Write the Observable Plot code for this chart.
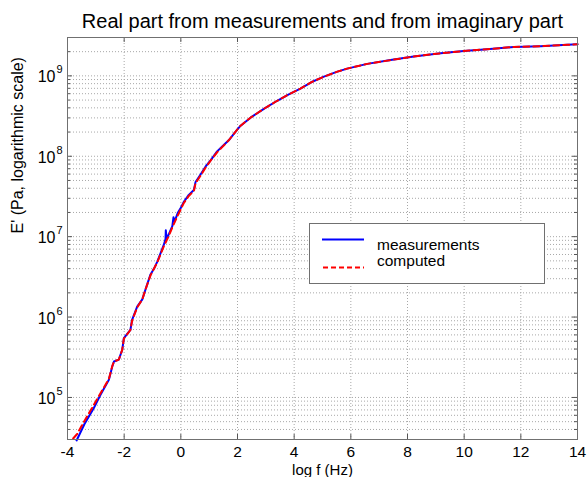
<!DOCTYPE html>
<html><head><meta charset="utf-8">
<script src="https://cdn.jsdelivr.net/npm/d3@7"></script>
<script src="https://cdn.jsdelivr.net/npm/@observablehq/plot@0.6"></script>
<style>
body{margin:0;background:#fff;font-family:Arial,"Liberation Sans",sans-serif;}
#wrap{position:relative;width:588px;height:477px;}
#legend{position:absolute;left:309px;top:223px;}
</style></head><body>
<div id="wrap"></div>
<script>
// measured log f (Hz) and E' (Pa)
const measX = [-3.68,-3.40,-3.07,-2.84,-2.54,-2.42,-2.36,-2.19,-2.07,-2.01,-1.78,-1.72,-1.54,-1.36,-1.25,-1.07,-0.95,-0.83,-0.72,-0.60,-0.54,-0.53,-0.50,-0.40,-0.30,-0.26,-0.22,-0.10,0.00,0.10,0.28,0.46,0.52,0.69,0.87,1.05,1.28,1.46,1.69,1.85,1.99,2.11,2.46,2.93,3.40,3.81,4.22,4.60,5.05,5.50,5.87,6.58,7.40,8.22,9.17,9.99,10.81,11.75,12.70,13.64,14.00];
const measE = [2.92e4,4.68e4,7.41e4,1.07e5,1.66e5,2.43e5,2.80e5,2.95e5,3.89e5,5.46e5,6.92e5,9.23e5,1.35e6,1.66e6,2.19e6,3.39e6,3.98e6,4.90e6,6.17e6,7.94e6,9.33e6,1.20e7,9.33e6,1.12e7,1.35e7,1.74e7,1.55e7,2.00e7,2.29e7,2.69e7,3.31e7,3.80e7,4.79e7,5.89e7,7.41e7,8.91e7,1.15e8,1.32e8,1.58e8,1.86e8,2.14e8,2.40e8,3.02e8,3.89e8,4.90e8,5.89e8,6.92e8,8.32e8,9.77e8,1.12e9,1.23e9,1.41e9,1.57e9,1.74e9,1.91e9,2.04e9,2.14e9,2.29e9,2.34e9,2.43e9,2.48e9];
// computed from imaginary part
const compX = [-3.80,-3.66,-3.48,-3.07,-2.84,-2.54,-2.42,-2.36,-2.19,-2.07,-2.01,-1.78,-1.72,-1.54,-1.36,-1.25,-1.07,-0.83,-0.60,-0.45,-0.30,-0.18,0.00,0.10,0.28,0.46,0.52,0.69,0.87,1.05,1.28,1.46,1.69,1.85,1.99,2.11,2.46,2.93,3.40,3.81,4.22,4.60,5.05,5.50,5.87,6.58,7.40,8.22,9.17,9.99,10.81,11.75,12.70,13.64,14.00];
const compE = [3.09e4,3.51e4,4.57e4,8.10e4,1.12e5,1.70e5,2.45e5,2.80e5,2.95e5,3.89e5,5.40e5,6.90e5,9.00e5,1.32e6,1.66e6,2.19e6,3.30e6,4.80e6,7.60e6,9.80e6,1.30e7,1.62e7,2.20e7,2.60e7,3.20e7,3.70e7,4.60e7,5.70e7,7.20e7,8.80e7,1.12e8,1.30e8,1.58e8,1.86e8,2.14e8,2.40e8,3.02e8,3.89e8,4.90e8,5.89e8,6.92e8,8.32e8,9.77e8,1.12e9,1.23e9,1.41e9,1.57e9,1.74e9,1.91e9,2.04e9,2.14e9,2.29e9,2.34e9,2.43e9,2.48e9];

const xTicks = [-4,-2,0,2,4,6,8,10,12,14];
const yDecades = [1e5,1e6,1e7,1e8,1e9];
const yExponents = ["5","6","7","8","9"];
const yMinor = [3e4,4e4,5e4,6e4,7e4,8e4,9e4,
  2e5,3e5,4e5,5e5,6e5,7e5,8e5,9e5,
  2e6,3e6,4e6,5e6,6e6,7e6,8e6,9e6,
  2e7,3e7,4e7,5e7,6e7,7e7,8e7,9e7,
  2e8,3e8,4e8,5e8,6e8,7e8,8e8,9e8,
  2e9,3e9];
const title = "Real part from measurements and from imaginary part";
const xLabel = "log f (Hz)";
const yLabel = "E' (Pa, logarithmic scale)";
const seriesNames = ["measurements", "computed"];

const meas = measX.map((x, i) => ({x, e: measE[i]}));
const comp = compX.map((x, i) => ({x, e: compE[i]}));

const W = 588, H = 477, ML = 67, MR = 11, MT = 37, MB = 38;
const FW = W - ML - MR, FH = H - MT - MB;
const gridStyle = {stroke: "#a8a8a8", strokeWidth: 1, strokeDasharray: "1,2"};
const tickStroke = "#555";
const font = "Arial, 'Liberation Sans', sans-serif";

const chart = Plot.plot({
  width: W, height: H,
  marginLeft: ML, marginRight: MR, marginTop: MT, marginBottom: MB,
  style: {fontFamily: font, fontSize: "16px", color: "#000", background: "#fff", overflow: "visible"},
  x: {domain: [-4, 14], axis: null},
  y: {type: "log", domain: [3e4, 3e9], axis: null},
  marks: [
    Plot.ruleY(yMinor, {y: d => d, ...gridStyle}),
    Plot.ruleY(yDecades, {y: d => d, ...gridStyle}),
    Plot.ruleX(xTicks, {x: d => d, ...gridStyle}),
    Plot.tickX(xTicks, {x: d => d, insetTop: FH - 5, stroke: tickStroke}),
    Plot.tickX(xTicks, {x: d => d, insetBottom: FH - 5, stroke: tickStroke}),
    Plot.tickY(yDecades, {y: d => d, insetRight: FW - 5, stroke: tickStroke}),
    Plot.tickY(yDecades, {y: d => d, insetLeft: FW - 5, stroke: tickStroke}),
    Plot.tickY(yMinor, {y: d => d, insetRight: FW - 3, stroke: tickStroke}),
    Plot.tickY(yMinor, {y: d => d, insetLeft: FW - 3, stroke: tickStroke}),
    Plot.line(meas, {x: "x", y: "e", stroke: "#0000ff", strokeWidth: 2}),
    Plot.line(comp, {x: "x", y: "e", stroke: "#ff0000", strokeWidth: 2, strokeDasharray: "6,4"}),
    Plot.frame({stroke: "#707070"}),
    Plot.text(xTicks, {x: d => d, text: d => String(d), frameAnchor: "bottom", lineAnchor: "middle", dy: 13, fontSize: 15.5, fill: "#000"}),
    Plot.text(yDecades, {y: d => d, text: () => "10", frameAnchor: "left", lineAnchor: "middle", textAnchor: "end", dx: -12, dy: 1.5, fontSize: 16, fill: "#000"}),
    Plot.text(yDecades, {y: d => d, text: (d, i) => yExponents[i], frameAnchor: "left", lineAnchor: "middle", textAnchor: "start", dx: -11, dy: -6, fontSize: 11, fill: "#000"}),
    Plot.text([title], {text: d => d, frameAnchor: "top", lineAnchor: "middle", dy: -16, fontSize: 20, fill: "#000"}),
    Plot.text([xLabel], {text: d => d, frameAnchor: "bottom", lineAnchor: "middle", dy: 31, fontSize: 15, fill: "#000"}),
    Plot.text([yLabel], {text: d => d, frameAnchor: "left", lineAnchor: "middle", dx: -50, dy: -5, rotate: -90, fontSize: 16, fill: "#000"})
  ]
});
const wrap = document.getElementById("wrap");
wrap.appendChild(chart);

// legend
const ns = "http://www.w3.org/2000/svg";
const lg = document.createElementNS(ns, "svg");
lg.setAttribute("id", "legend");
lg.setAttribute("width", 237);
lg.setAttribute("height", 62);
lg.innerHTML = `
<rect x="0.5" y="0.5" width="235" height="60" fill="#fff" stroke="#707070"/>
<line x1="13" x2="55" y1="16.5" y2="16.5" stroke="#0000ff" stroke-width="2"/>
<text x="68" y="27" font-size="15.5" font-family="${font}" fill="#000">${seriesNames[0]}</text>
<line x1="14" x2="55" y1="44.5" y2="44.5" stroke="#ff0000" stroke-width="2" stroke-dasharray="5,3"/>
<text x="68" y="43" font-size="15.5" font-family="${font}" fill="#000">${seriesNames[1]}</text>`;
wrap.appendChild(lg);
</script>
</body></html>
